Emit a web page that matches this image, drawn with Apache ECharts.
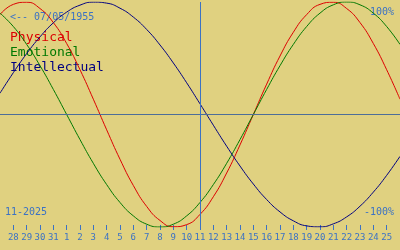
<!DOCTYPE html>
<html>
<head>
<meta charset="utf-8">
<script src="https://cdn.jsdelivr.net/npm/echarts@6/dist/echarts.min.js"></script>
<style>
html,body{margin:0;padding:0;background:#e0d180;}
#chart{width:400px;height:250px;}
</style>
</head>
<body>
<div id="chart"></div>
<script>
// Day labels (Oct 27 .. Nov 26, 2025); first and last are off-screen padding days
const categories = ['27','28','29','30','31','1','2','3','4','5','6','7','8','9','10','11','12','13','14','15','16','17','18','19','20','21','22','23','24','25','26'];
const physical = [0.888,0.979,0.998,0.942,0.817,0.631,0.398,0.136,-0.136,-0.398,-0.631,-0.817,-0.942,-0.998,-0.979,-0.888,-0.731,-0.520,-0.270,0.000,0.270,0.520,0.731,0.888,0.979,0.998,0.942,0.817,0.631,0.398,0.136];
const emotional = [0.901,0.782,0.623,0.434,0.223,0.000,-0.223,-0.434,-0.623,-0.782,-0.901,-0.975,-1.000,-0.975,-0.901,-0.782,-0.623,-0.434,-0.223,0.000,0.223,0.434,0.623,0.782,0.901,0.975,1.000,0.975,0.901,0.782,0.623];
const intellectual = [0.189,0.372,0.541,0.690,0.815,0.910,0.972,0.999,0.990,0.945,0.866,0.756,0.618,0.458,0.282,0.095,-0.095,-0.282,-0.458,-0.618,-0.756,-0.866,-0.945,-0.990,-0.999,-0.972,-0.910,-0.815,-0.690,-0.541,-0.372];
const seriesNames = ['Physical','Emotional','Intellectual'];
const today = '11';
const birthLabel = '<-- 07/05/1955';
const monthLabel = '11-2025';
const topLabel = '100%';
const bottomLabel = '-100%';

const blue = '#3b72c4';
const colors = ['#dc0000','#007800','#000080'];
const mono = 'DejaVu Sans Mono';
const last = categories.length - 1;
const showIdx = (i) => i > 0 && i < last;

const chart = echarts.init(document.getElementById('chart'), null, {renderer:'canvas'});
const mkSeries = (name, data, color, extra) => Object.assign({
  name, type:'line', data, smooth:true, symbol:'none', silent:true,
  lineStyle:{color, width:1}, animation:false
}, extra || {});

chart.setOption({
  backgroundColor:'#e0d180',
  animation:false,
  grid:{left:0,right:0,top:2,bottom:23},
  xAxis:{
    type:'category', data:categories, boundaryGap:false, offset:-2,
    axisLine:{show:false, onZero:false},
    axisTick:{show:true, length:5, lineStyle:{color:blue,width:1}, interval:(i)=>showIdx(i), alignWithLabel:true},
    axisLabel:{color:blue, fontFamily:mono, fontSize:9, margin:8, interval:(i)=>showIdx(i)},
    splitLine:{show:false}
  },
  yAxis:{type:'value', min:-1, max:1, show:false},
  series:[
    mkSeries(seriesNames[0], physical, colors[0], {
      markLine:{silent:true, symbol:'none', label:{show:false}, animation:false,
        data:[
          {yAxis:0, lineStyle:{color:'#4d6e99', width:1, type:'solid'}},
          {xAxis:today, lineStyle:{color:blue, width:1, type:'solid'}}
        ]}
    }),
    mkSeries(seriesNames[1], emotional, colors[1]),
    mkSeries(seriesNames[2], intellectual, colors[2])
  ],
  graphic:[
    {type:'text', left:10, top:12, style:{text:birthLabel, fill:blue, font:'10px "DejaVu Sans Mono"'}},
    {type:'text', left:10, top:31, style:{text:seriesNames[0], fill:colors[0], font:'13px "DejaVu Sans Mono"'}},
    {type:'text', left:10, top:46, style:{text:seriesNames[1], fill:colors[1], font:'13px "DejaVu Sans Mono"'}},
    {type:'text', left:10, top:61, style:{text:seriesNames[2], fill:colors[2], font:'13px "DejaVu Sans Mono"'}},
    {type:'text', right:6, top:7, style:{text:topLabel, fill:blue, font:'10px "DejaVu Sans Mono"'}},
    {type:'text', right:6, top:207, style:{text:bottomLabel, fill:blue, font:'10px "DejaVu Sans Mono"'}},
    {type:'text', left:5, top:207, style:{text:monthLabel, fill:blue, font:'10px "DejaVu Sans Mono"'}}
  ]
});
</script>
</body>
</html>
